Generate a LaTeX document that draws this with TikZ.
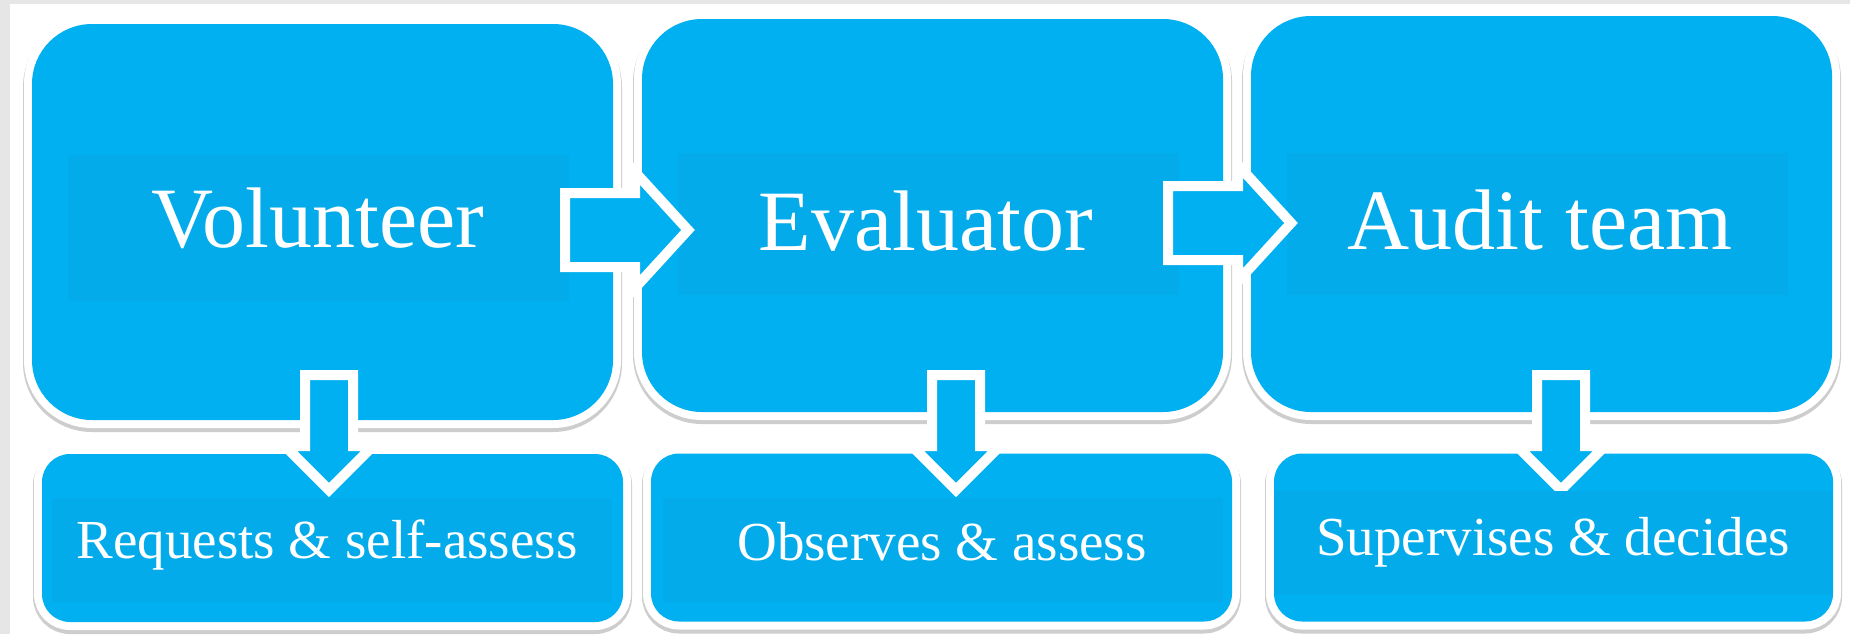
\documentclass[tikz,border=0pt]{standalone}
\usepackage{fontspec}
\setmainfont{Liberation Serif}
\definecolor{boxblue}{HTML}{00B0F0}
\definecolor{paneblue}{HTML}{03ABEA}
\definecolor{shadowgray}{HTML}{CDCDCD}
\definecolor{backgray}{HTML}{E6E6E6}

\begin{document}
\begin{tikzpicture}[x=0.5pt, y=-0.5pt,
	rolebox/.style={rectangle, rounded corners=30pt, fill=boxblue, inner sep=0pt,
		preaction={draw=shadowgray, line width=9pt, transform canvas={yshift=-1.5pt}},
		preaction={draw=white, line width=8pt}},
	taskbox/.style={rolebox, rounded corners=14pt},
	pane/.style={fill=paneblue},
	blockarrow/.style={draw=white, line width=5pt, fill=boxblue},
	roletext/.style={text=white, anchor=base, font=\fontsize{43}{50}\selectfont},
	tasktext/.style={text=white, anchor=base, font=\fontsize{27.5}{32}\selectfont}]

	% page and margin
	\fill[backgray] (0,0) rectangle (1850,634);
	\fill[white] (10,4) rectangle (1850,634);
	\useasboundingbox (0,0) rectangle (1850,634);

	\begin{scope}[every node/.style={rolebox, minimum width=290.5pt}]
	\node[minimum height=198pt] (role 1) at (322.5,222) {};
	\node[minimum height=196.5pt] (role 2) at (932.5,215.5) {};
	\node[minimum height=198pt] (role 3) at (1541.5,214) {};
	\end{scope}

	\begin{scope}[every node/.style={taskbox, minimum height=84pt}]
	\node[minimum width=290.5pt] (task 1) at (332.5,538) {};
	\node[minimum width=290.5pt] (task 2) at (941.5,537.5) {};
	\node[minimum width=279.5pt] (task 3) at (1553.5,537.5) {};
	\end{scope}

	% text panes
	\fill[pane] (68,155) rectangle (569,301);
	\fill[pane] (678,153) rectangle (1179,295);
	\fill[pane] (1287,153) rectangle (1788,295);

	% block arrows
	\foreach \x/\y in {565/230, 1168/223}
		\draw[blockarrow] (\x,\y-37) -- (\x+70,\y-37) -- (\x+70,\y-58) -- (\x+123,\y)
			-- (\x+70,\y+58) -- (\x+70,\y+37) -- (\x,\y+37) -- cycle;
	\foreach \x in {329, 956, 1561}
		\draw[blockarrow] (\x-24,375) -- (\x+24,375) -- (\x+24,446) -- (\x+44,446)
			-- (\x,490) -- (\x-44,446) -- (\x-24,446) -- cycle;

	\fill[pane] (52,498) rectangle (612,602);
	\fill[pane] (663,498) rectangle (1223,602);
	\fill[pane] (1274,491) rectangle (1833,595);

	% labels
	\node[roletext] (name 1) at (318,247) {Volunteer};
	\node[roletext] (name 2) at (926,250) {Evaluator};
	\node[roletext] (name 3) at (1540,249) {Audit team};
	\node[tasktext] (duty 1) at (327,558) {Requests \& self-assess};
	\node[tasktext] (duty 2) at (942,560) {Observes \& assess};
	\node[tasktext] (duty 3) at (1553,555) {Supervises \& decides};

\end{tikzpicture}
\end{document}
